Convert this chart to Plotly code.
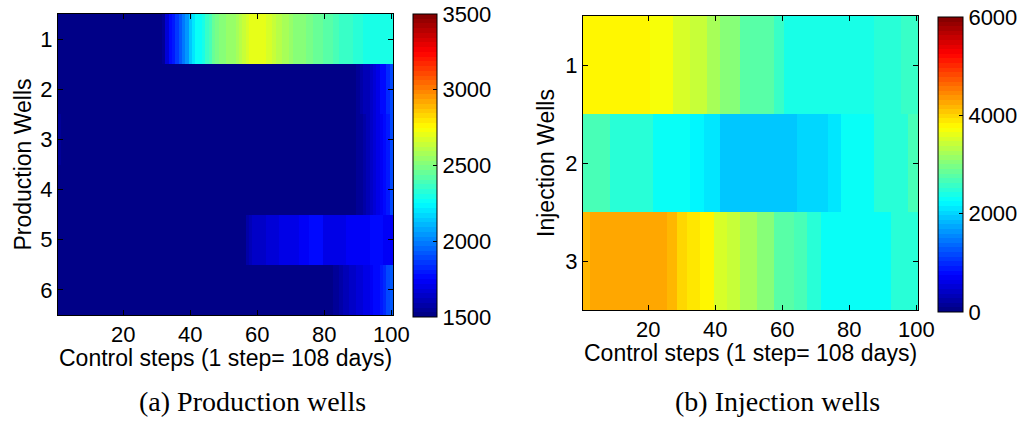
import plotly.graph_objects as go

# ---------------- data ----------------
steps = list(range(1, 101))
prod_wells = [1, 2, 3, 4, 5, 6]
inj_wells = [1, 2, 3]

prod_w1 = ([1500] * 31 +
           [1550, 1680, 1750, 1810, 1870, 1930, 1990, 2060, 2130, 2200,
            2250, 2280, 2310, 2350, 2400, 2440, 2470, 2500, 2520, 2540,
            2550, 2560, 2590, 2610, 2630, 2660, 2690, 2700, 2700, 2700,
            2690, 2680, 2660, 2640, 2620, 2600, 2580, 2570, 2560, 2530,
            2510, 2500, 2500, 2490, 2470, 2450, 2440, 2440, 2430, 2420,
            2410, 2390, 2380, 2370, 2370, 2360, 2350, 2340, 2330, 2320,
            2310] + [2300] * 8)
prod_w2 = ([1500] * 88 +
           [1530, 1550, 1570, 1600, 1620, 1650, 1680, 1710, 1750, 1780, 1820, 1900])
prod_w3 = ([1540] + [1500] * 87 +
           [1520, 1540, 1560, 1590, 1620, 1650, 1680, 1710, 1730, 1760, 1800, 1900])
prod_w4 = ([1500] * 88 +
           [1520, 1540, 1560, 1590, 1620, 1650, 1680, 1710, 1740, 1770, 1810, 1880])
prod_w5 = ([1500] * 56 +
           [1590, 1620] + [1650] * 4 + [1680] * 4 + [1700] * 6 + [1720] * 3 +
           [1750] * 4 + [1710] * 7 + [1730] * 7 + [1760] * 4 + [1720] * 3)
prod_w6 = ([1500] * 81 +
           [1520, 1540, 1560, 1580, 1600, 1620, 1640, 1650, 1660, 1670,
            1690, 1710, 1730, 1750, 1780, 1810, 1840, 1880, 1920])

inj_w1 = ([3780] * 5 + [3840] * 15 + [3740] * 3 + [3660] * 4 + [3560] * 5 +
          [3375] * 5 + [3190] * 4 + [3000] * 6 + [2810] * 5 + [2720] * 5 +
          [2560] * 3 + [2420] * 27 + [2500] * 8 + [2600] * 5)
inj_w2 = ([2625] * 8 + [2530] * 5 + [2440] * 8 + [2340] * 6 + [2250] * 5 +
          [2160] * 4 + [2070] * 5 + [1875] * 23 + [1970] * 9 + [2070] * 4 +
          [2250] * 5 + [2340] * 5 + [2440] * 10 + [2625] * 3)
inj_w3 = ([4125] * 2 + [4220] * 6 + [4310] * 13 + [4220] * 4 + [4125] * 3 +
          [4030] * 3 + [3930] * 4 + [3750] * 4 + [3560] * 4 + [3375] * 4 +
          [3190] * 5 + [3000] * 5 + [2810] * 6 + [2625] * 4 + [2440] * 4 +
          [2250] * 16 + [2340] * 5 + [2440] * 8)

prod_z = [prod_w1, prod_w2, prod_w3, prod_w4, prod_w5, prod_w6]
inj_z = [inj_w1, inj_w2, inj_w3]

x_ticks = [20, 40, 60, 80, 100]
prod_cbar_ticks = [1500, 2000, 2500, 3000, 3500]
inj_cbar_ticks = [0, 2000, 4000, 6000]

# ---------------- MATLAB jet (64 levels) ----------------
def jet_rgb(v):
    def ch(x):
        return max(0.0, min(1.0, 1.5 - abs(4 * v - x)))
    return ch(3), ch(2), ch(1)

N = 64
jet = []
for i in range(N):
    v = (i + 0.5) / N
    r, g, b = jet_rgb(v)
    c = f"rgb({int(round(r*255))},{int(round(g*255))},{int(round(b*255))})"
    jet.append([i / N, c])
    jet.append([(i + 1) / N, c])

FONT = "Liberation Sans"
FS = 22
W, H = 1026, 424

def cbar(x0, thick, top, bot, ticks):
    return dict(x=x0 / W, xanchor="left", xpad=0, ypad=0,
                thickness=thick, thicknessmode="pixels",
                len=(bot - top) / H, lenmode="fraction",
                y=1 - (top + bot) / 2 / H, yanchor="middle",
                tickvals=ticks, ticks="inside", ticklen=4, tickcolor="black",
                outlinewidth=1, outlinecolor="black",
                tickfont=dict(family=FONT, size=FS, color="black"))

fig = go.Figure()
fig.add_trace(go.Heatmap(
    z=prod_z, x=steps, y=prod_wells, zmin=1500, zmax=3500,
    colorscale=jet, xaxis="x", yaxis="y", zsmooth=False,
    colorbar=cbar(413, 24, 14, 317, prod_cbar_ticks)))
fig.add_trace(go.Heatmap(
    z=inj_z, x=steps, y=inj_wells, zmin=0, zmax=6000,
    colorscale=jet, xaxis="x2", yaxis="y2", zsmooth=False,
    colorbar=cbar(938, 25, 17, 312, inj_cbar_ticks)))

ax_common = dict(showline=True, linecolor="black", linewidth=1, mirror="ticks",
                 ticks="inside", ticklen=5, tickcolor="black", showgrid=False,
                 zeroline=False, tickfont=dict(family=FONT, size=FS, color="black"))
title_font = dict(family=FONT, size=23, color="black")
cap_font = dict(family="Liberation Serif", size=28, color="black")

def note(text, xc, yc, font, angle=0):
    return dict(text=text, x=xc / W, y=1 - yc / H, xref="paper", yref="paper",
                showarrow=False, xanchor="center", yanchor="middle",
                textangle=angle, font=font)

fig.update_layout(
    width=W, height=H, margin=dict(l=0, r=0, t=0, b=0, autoexpand=False),
    paper_bgcolor="white", plot_bgcolor="white",
    xaxis=dict(domain=[58/W, 393/W], range=[0.5, 100.5], tickvals=x_ticks,
               anchor="y", **ax_common),
    yaxis=dict(domain=[1-315/H, 1-14/H], range=[6.5, 0.5], tickvals=prod_wells,
               anchor="x",
               title=dict(text="Production Wells", standoff=2, font=title_font),
               **ax_common),
    xaxis2=dict(domain=[583/W, 918/W], range=[0.5, 100.5], tickvals=x_ticks,
                anchor="y2", **ax_common),
    yaxis2=dict(domain=[1-310/H, 1-16/H], range=[3.5, 0.5], tickvals=inj_wells,
                anchor="x2",
                title=dict(text="Injection Wells", standoff=4, font=title_font),
                **ax_common),
    annotations=[
        note("Control steps (1 step= 108 days)", 225.5, 358, title_font),
        note("Control steps (1 step= 108 days)", 750.5, 353, title_font),
        note("(a) Production wells", 252, 401, cap_font),
        note("(b) Injection wells", 777, 401, cap_font),
    ],
)

fig.write_html("out.html")
